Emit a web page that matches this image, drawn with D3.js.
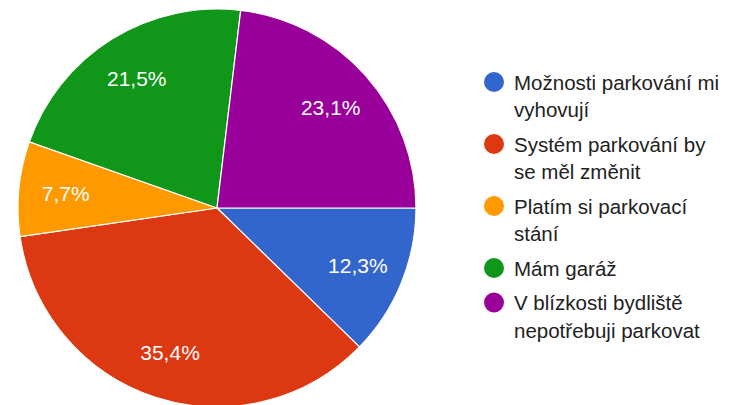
<!DOCTYPE html>
<html><head><meta charset="utf-8">
<script src="https://cdn.jsdelivr.net/npm/d3@7"></script>
<style>html,body{margin:0;padding:0;background:#fff;}svg{display:block;}</style>
</head><body>
<svg id="chart" width="735" height="405"></svg>
<script>
const categories = ["Možnosti parkování mi vyhovují","Systém parkování by se měl změnit","Platím si parkovací stání","Mám garáž","V blízkosti bydliště nepotřebuji parkovat"];
const values = [12.3, 35.4, 7.7, 21.5, 23.1];
const labels = ["12,3%","35,4%","7,7%","21,5%","23,1%"];
const colors = ["#3366cc","#dc3912","#ff9900","#109618","#990099"];

const svg = d3.select("#chart");
const font = "'Liberation Sans', Arial, sans-serif";
const cx = 217, cy = 208, r = 199;
const g = svg.append("g").attr("transform", `translate(${cx},${cy})`);
const pie = d3.pie().sort(null).value(d => d).startAngle(Math.PI/2).endAngle(Math.PI/2 + 2*Math.PI);
const arcs = pie(values);
const arc = d3.arc().innerRadius(0).outerRadius(r);
const labelArc = d3.arc().innerRadius(152).outerRadius(152);
g.selectAll("path").data(arcs).enter().append("path")
  .attr("d", arc).attr("fill", (d,i) => colors[i])
  .attr("stroke", "#fff").attr("stroke-width", 1.2);
g.selectAll("text").data(arcs).enter().append("text")
  .attr("transform", d => `translate(${labelArc.centroid(d)})`)
  .attr("text-anchor", "middle").attr("dominant-baseline", "central")
  .attr("font-family", font).attr("font-size", 21).attr("fill", "#fff")
  .text((d,i) => labels[i]);

// legend
const lg = svg.append("g");
const maxW = 209, lineH = 27.5, itemGap = 34.5;
let y = 82;
categories.forEach((c, i) => {
  lg.append("circle").attr("cx", 494).attr("cy", y).attr("r", 10).attr("fill", colors[i]);
  const words = c.split(" ");
  const t = lg.append("text").attr("font-family", font).attr("font-size", 20.5).attr("fill", "#222");
  let lines = [], cur = [];
  const probe = t.append("tspan");
  words.forEach(w => {
    const test = cur.concat([w]).join(" ");
    probe.text(test);
    if (probe.node().getComputedTextLength() > maxW && cur.length) { lines.push(cur.join(" ")); cur = [w]; }
    else cur.push(w);
  });
  lines.push(cur.join(" "));
  probe.remove();
  lines.forEach((l, k) => {
    t.append("tspan").attr("x", 514).attr("y", y + k*lineH).attr("dominant-baseline", "central").text(l);
  });
  y = y + (lines.length - 1)*lineH + itemGap;
});
</script>
</body></html>
